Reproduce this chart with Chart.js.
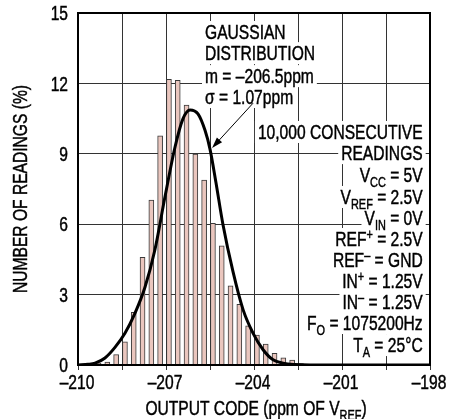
<!DOCTYPE html>
<html>
<head>
<meta charset="utf-8">
<script src="https://cdn.jsdelivr.net/npm/chart.js@4"></script>
<style>
  body { margin: 0; background: #fff; }
</style>
</head>
<body>
<canvas id="hist" width="451" height="419"></canvas>
<script>
// histogram bins (ppm of VREF) and share of readings (%)
const binCodes = [-209.3, -209.0, -208.7, -208.4, -208.1, -207.8, -207.5, -207.2, -206.9, -206.6, -206.3, -206.0,
  -205.7, -205.4, -205.1, -204.8, -204.5, -204.2, -203.9, -203.6, -203.3, -203.0, -202.7, -202.4];
const binPct = [0.07, 0.12, 0.44, 0.99, 2.24, 4.59, 7.03, 9.77, 12.17, 12.13, 11.08, 8.99,
  7.88, 6.04, 5.08, 3.37, 2.59, 1.67, 1.28, 0.89, 0.50, 0.31, 0.21, 0.06];

// gaussian fit as drawn
const fitCodes = [-210, -209.66, -209.42, -209.08, -208.74, -208.40, -208.06, -207.72, -207.38, -207.03, -206.69,
  -206.42, -206.18, -205.91, -205.67, -205.50, -205.30, -205.06, -204.72, -204.37, -204.03, -203.69, -203.35,
  -203.01, -202.60, -202.09, -198];
const fitPct = [0.0, 0.03, 0.08, 0.30, 0.75, 1.35, 2.2, 3.3, 4.9, 7.2, 9.3,
  10.5, 10.87, 10.7, 10.0, 9.2, 7.8, 6.0, 4.0, 2.35, 1.35, 0.65, 0.22,
  0.08, 0.02, 0.0, 0.0];

const xGrid = [-210, -208.5, -207, -205.5, -204, -202.5, -201, -199.5, -198];
const xTicks = [-210, -207, -204, -201, -198];
const yTicks = [0, 3, 6, 9, 12, 15];

// narrow sans: Liberation Sans squeezed sideways
const FONT = "'Liberation Sans', Arial, sans-serif";
const NARROW = 0.78;
const SIZE = 20;

const fitNote = [
  [{ t: "GAUSSIAN" }],
  [{ t: "DISTRIBUTION" }],
  [{ t: "m = –206.5ppm" }],
  [{ t: "σ = 1.07ppm" }]
];
const fitNoteX = -205.67;
const fitNoteY = [14.19, 13.29, 12.31, 11.42];

const condNote = [
  [{ t: "10,000 CONSECUTIVE" }],
  [{ t: "READINGS" }],
  [{ t: "V" }, { t: "CC", sub: true }, { t: " = 5V" }],
  [{ t: "V" }, { t: "REF", sub: true }, { t: " = 2.5V" }],
  [{ t: "V" }, { t: "IN", sub: true }, { t: " = 0V" }],
  [{ t: "REF" }, { t: "+", sup: true }, { t: " = 2.5V" }],
  [{ t: "REF" }, { t: "–", sup: true }, { t: " = GND" }],
  [{ t: "IN" }, { t: "+", sup: true }, { t: " = 1.25V" }],
  [{ t: "IN" }, { t: "–", sup: true }, { t: " = 1.25V" }],
  [{ t: "F" }, { t: "O", sub: true }, { t: " = 1075200Hz" }],
  [{ t: "T" }, { t: "A", sub: true }, { t: " = 25°C" }]
];
const condNoteX = -198.25;
const condNoteY = [9.93, 9.03, 8.10, 7.16, 6.26, 5.37, 4.47, 3.58, 2.68, 1.79, 0.85];

const arrowFrom = [-204.03, 11.16];
const arrowTo = [-205.43, 9.25];

const xTitle = [{ t: "OUTPUT CODE (ppm OF V" }, { t: "REF", sub: true }, { t: ")" }];
const yTitle = [{ t: "NUMBER OF READINGS (%)" }];

function fontFor(s, size) {
  return (s.sub || s.sup ? Math.round(size * 0.72) : size) + "px " + FONT;
}

function segWidth(ctx, segs, size) {
  let w = 0;
  segs.forEach(s => {
    ctx.font = fontFor(s, size);
    w += ctx.measureText(s.t).width * NARROW;
  });
  return w;
}

function leftOf(ctx, segs, x, size, align) {
  const w = segWidth(ctx, segs, size);
  return { left: align === "right" ? x - w : (align === "center" ? x - w / 2 : x), w };
}

function drawBox(ctx, segs, x, y, size, align) {
  const { left, w } = leftOf(ctx, segs, x, size, align);
  ctx.fillStyle = "#fff";
  ctx.fillRect(left - 3, y - 11, w + 6, 22);
}

// y is the visual middle of capitals
function drawSegs(ctx, segs, x, y, size, align) {
  let { left } = leftOf(ctx, segs, x, size, align);
  ctx.fillStyle = "#000";
  ctx.strokeStyle = "#000";
  ctx.lineWidth = 0.45;
  ctx.textBaseline = "alphabetic";
  ctx.textAlign = "left";
  const base = y + size * 0.36;
  segs.forEach(s => {
    ctx.font = fontFor(s, size);
    const dy = s.sub ? 5 : (s.sup ? -7 : 0);
    ctx.save();
    ctx.translate(left, base + dy);
    ctx.scale(NARROW, 1);
    ctx.fillText(s.t, 0, 0);
    ctx.strokeText(s.t, 0, 0);
    ctx.restore();
    left += ctx.measureText(s.t).width * NARROW;
  });
}

const notesPlugin = {
  id: "notes",
  afterDatasetsDraw(chart) {
    const ctx = chart.ctx;
    const xs = chart.scales.x, ys = chart.scales.y;
    const area = chart.chartArea;
    ctx.save();
    const fx = xs.getPixelForValue(fitNoteX), cx = xs.getPixelForValue(condNoteX);
    fitNote.forEach((segs, i) => drawBox(ctx, segs, fx, ys.getPixelForValue(fitNoteY[i]), SIZE, "left"));
    condNote.forEach((segs, i) => drawBox(ctx, segs, cx, ys.getPixelForValue(condNoteY[i]), SIZE, "right"));
    fitNote.forEach((segs, i) => drawSegs(ctx, segs, fx, ys.getPixelForValue(fitNoteY[i]), SIZE, "left"));
    condNote.forEach((segs, i) => drawSegs(ctx, segs, cx, ys.getPixelForValue(condNoteY[i]), SIZE, "right"));

    // arrow to the fitted curve
    const x0 = xs.getPixelForValue(arrowFrom[0]), y0 = ys.getPixelForValue(arrowFrom[1]);
    const x1 = xs.getPixelForValue(arrowTo[0]), y1 = ys.getPixelForValue(arrowTo[1]);
    const ang = Math.atan2(y1 - y0, x1 - x0);
    ctx.strokeStyle = "#000";
    ctx.lineWidth = 1;
    ctx.beginPath();
    ctx.moveTo(x0, y0);
    ctx.lineTo(x1 - 6 * Math.cos(ang), y1 - 6 * Math.sin(ang));
    ctx.stroke();
    ctx.fillStyle = "#000";
    ctx.beginPath();
    ctx.moveTo(x1, y1);
    ctx.lineTo(x1 - 11 * Math.cos(ang) + 3.5 * Math.sin(ang), y1 - 11 * Math.sin(ang) - 3.5 * Math.cos(ang));
    ctx.lineTo(x1 - 11 * Math.cos(ang) - 3.5 * Math.sin(ang), y1 - 11 * Math.sin(ang) + 3.5 * Math.cos(ang));
    ctx.closePath();
    ctx.fill();

    // frame
    ctx.lineWidth = 2;
    ctx.strokeRect(area.left, area.top, area.right - area.left, area.bottom - area.top);

    // tick labels at the scale positions
    xTicks.forEach(v => {
      drawSegs(ctx, [{ t: "–" + Math.abs(v) }], xs.getPixelForValue(v) - 1, area.bottom + 17, SIZE, "center");
    });
    yTicks.forEach(v => {
      drawSegs(ctx, [{ t: String(v) }], area.left - 10, ys.getPixelForValue(v), SIZE, "right");
    });

    // axis titles
    drawSegs(ctx, xTitle, (area.left + area.right) / 2 + 2, 408, SIZE, "center");
    ctx.save();
    ctx.translate(20, (area.top + area.bottom) / 2);
    ctx.rotate(-Math.PI / 2);
    drawSegs(ctx, yTitle, 0, 0, SIZE, "center");
    ctx.restore();
    ctx.restore();
  }
};

const histChart = new Chart(document.getElementById("hist"), {
  data: {
    datasets: [
      {
        type: "line",
        data: fitCodes.map((c, i) => ({ x: c, y: fitPct[i] })),
        borderColor: "#000",
        borderWidth: 3,
        pointRadius: 0,
        cubicInterpolationMode: "monotone",
        order: 0
      },
      {
        type: "bar",
        data: binCodes.map((c, i) => ({ x: c, y: binPct[i] })),
        backgroundColor: "rgb(234, 198, 190)",
        borderColor: "#3a3a3a",
        borderWidth: 1,
        borderSkipped: "bottom",
        barThickness: 5,
        order: 1
      }
    ]
  },
  options: {
    responsive: false,
    devicePixelRatio: 1,
    animation: false,
    layout: { padding: { top: 13, right: 21, bottom: 0, left: 0 } },
    plugins: { legend: { display: false }, tooltip: { enabled: false } },
    scales: {
      x: {
        type: "linear",
        min: -210,
        max: -198,
        offset: false,
        afterBuildTicks: s => { s.ticks = xGrid.map(v => ({ value: v })); },
        afterFit: s => { s.height = 54; },
        ticks: { display: false },
        grid: { color: "#333", lineWidth: 1, tickLength: 5, offset: false },
        border: { display: false }
      },
      y: {
        min: 0,
        max: 15,
        afterBuildTicks: s => { s.ticks = yTicks.map(v => ({ value: v })); },
        afterFit: s => { s.width = 78; },
        ticks: { display: false },
        grid: { color: "#333", lineWidth: 1, drawTicks: false },
        border: { display: false }
      }
    }
  },
  plugins: [notesPlugin]
});
</script>
</body>
</html>
